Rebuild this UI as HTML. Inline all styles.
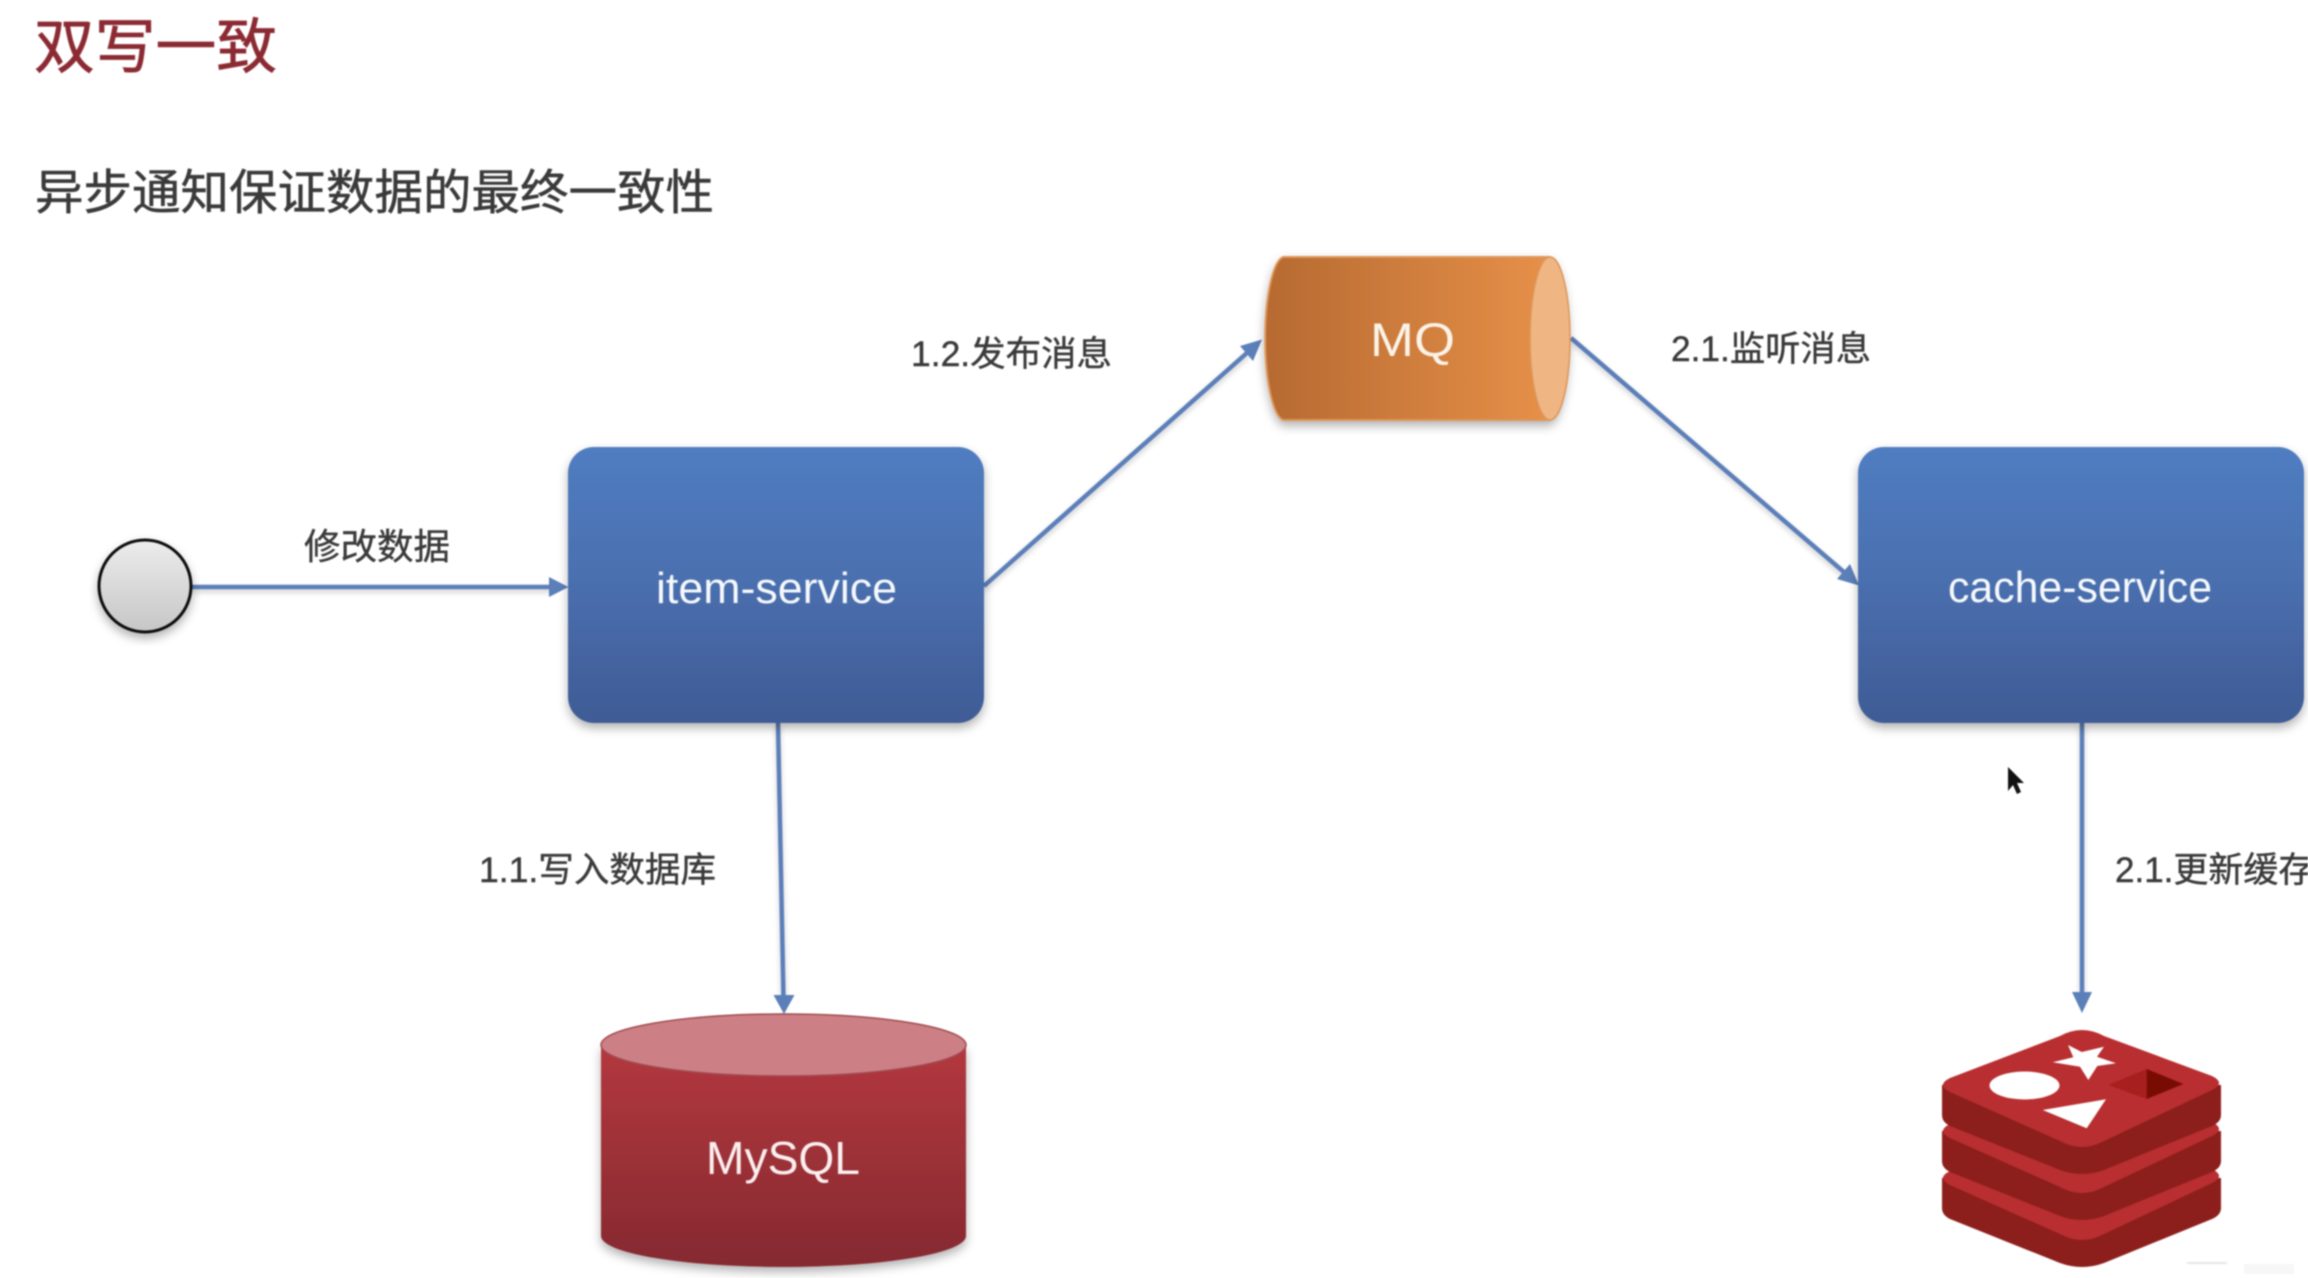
<!DOCTYPE html>
<html><head><meta charset="utf-8"><title>双写一致</title>
<style>
html,body{margin:0;padding:0;background:#fff;width:2308px;height:1278px;overflow:hidden}
svg{display:block;filter:blur(.7px)}
text{font-family:"Liberation Sans","Noto Sans CJK SC",sans-serif}
.lb{font-size:35px;fill:#3a3a3a;stroke:#3a3a3a;stroke-width:.4px}
.w{fill:#f6f9fc;font-size:44px}
</style></head><body>
<svg width="2308" height="1278" viewBox="0 0 2308 1278" xmlns="http://www.w3.org/2000/svg">
<defs>
<linearGradient id="blue" x1="0" y1="0" x2="0" y2="1"><stop offset="0" stop-color="#4f7dc1"/><stop offset=".45" stop-color="#4b70b0"/><stop offset="1" stop-color="#3f5b95"/></linearGradient>
<linearGradient id="org" x1="0" y1="0" x2="1" y2="0"><stop offset="0" stop-color="#b66a31"/><stop offset="1" stop-color="#e9924a"/></linearGradient>
<linearGradient id="red" x1="0" y1="0" x2="0" y2="1"><stop offset="0" stop-color="#b3383e"/><stop offset="1" stop-color="#852930"/></linearGradient>
<linearGradient id="gry" x1="0" y1="0" x2="0" y2="1"><stop offset="0" stop-color="#ececec"/><stop offset="1" stop-color="#c6c6c6"/></linearGradient>
<filter id="s" x="-10%" y="-10%" width="120%" height="125%"><feDropShadow dx="0" dy="5" stdDeviation="5" flood-color="#000" flood-opacity=".3"/></filter>
<filter id="ls" x="-5%" y="-5%" width="110%" height="110%"><feDropShadow dx="0" dy="3" stdDeviation="3" flood-color="#000" flood-opacity=".2"/></filter>
<path id="hull" d="M1942,1085 V1115 Q1942,1122 1950,1126 L2060,1170 Q2082,1178 2104,1170 L2212,1126 Q2221,1122 2221,1115 V1085 Z"/>
<path id="surf" d="M2060,1036 Q2082,1024 2104,1036 L2212,1076 Q2226,1083 2212,1090 L2104,1141 Q2082,1153 2060,1141 L1950,1092 Q1936,1085 1950,1078 Z"/>
</defs>
<rect width="2308" height="1278" fill="#fff"/>

<text x="34" y="68" font-size="60" fill="#8c2a33" stroke="#8c2a33" stroke-width=".7" textLength="243" lengthAdjust="spacingAndGlyphs">双写一致</text>
<text x="35" y="209" font-size="48" fill="#3a3a3a" stroke="#3a3a3a" stroke-width=".5" textLength="679" lengthAdjust="spacingAndGlyphs">异步通知保证数据的最终一致性</text>

<!-- connectors -->
<g filter="url(#ls)" stroke="#5b7fb9" stroke-width="4.500" fill="none">
<line x1="192" y1="587" x2="552" y2="587"/>
<line x1="984" y1="586" x2="1248" y2="352"/>
<line x1="1571" y1="338" x2="1845" y2="573"/>
<line x1="778" y1="723" x2="783.500" y2="998"/>
<line x1="2082" y1="723" x2="2082" y2="995"/>
</g>
<g fill="#5b7fb9">
<polygon points="568.500,587 549,577 549,597"/>
<polygon points="1262,339.500 1240,346 1253,361"/>
<polygon points="1859,585.500 1837,579 1850,564"/>
<polygon points="784,1014 773.500,995 794.500,995"/>
<polygon points="2082,1013 2072,992 2092,992"/>
</g>

<!-- start circle -->
<ellipse cx="145" cy="586" rx="46" ry="46" fill="url(#gry)" stroke="#0c0c0c" stroke-width="3" filter="url(#s)"/>

<!-- boxes -->
<rect x="568" y="447" width="416" height="276" rx="26" fill="url(#blue)" filter="url(#s)"/>
<rect x="1858" y="447" width="446" height="276" rx="26" fill="url(#blue)" filter="url(#s)"/>
<text x="656" y="603" class="w" textLength="241" lengthAdjust="spacingAndGlyphs">item-service</text>
<text x="1948" y="602" class="w" textLength="264" lengthAdjust="spacingAndGlyphs">cache-service</text>

<!-- MQ -->
<path d="M1283,257 H1550 A20,82 0 0 1 1550,420 H1283 A20,82 0 0 1 1283,257 Z" fill="url(#org)" stroke="#de9658" stroke-width="2" filter="url(#s)"/>
<ellipse cx="1550" cy="338.500" rx="20" ry="81.500" fill="#efb583" stroke="#de9658" stroke-width="1.500"/>
<text x="1370" y="356" font-size="47" fill="#fbf3e8" textLength="85" lengthAdjust="spacingAndGlyphs">MQ</text>

<!-- MySQL -->
<path d="M601,1045 V1236 A182.500,31 0 0 0 966,1236 V1045 Z" fill="url(#red)" filter="url(#s)"/>
<ellipse cx="783.500" cy="1045" rx="182.500" ry="31" fill="#cc8085" stroke="#a04a50" stroke-width="1.500"/>
<text x="706" y="1174" font-size="46" fill="#fbeff0" textLength="154" lengthAdjust="spacingAndGlyphs">MySQL</text>

<!-- labels -->
<text x="304" y="559" font-size="36" fill="#3a3a3a" stroke="#3a3a3a" stroke-width=".4" textLength="146" lengthAdjust="spacingAndGlyphs">修改数据</text>
<text x="911" y="366" class="lb" textLength="201" lengthAdjust="spacingAndGlyphs">1.2.发布消息</text>
<text x="1671" y="361" class="lb" textLength="200" lengthAdjust="spacingAndGlyphs">2.1.监听消息</text>
<text x="479" y="882" class="lb" textLength="237" lengthAdjust="spacingAndGlyphs">1.1.写入数据库</text>
<text x="2115" y="882" class="lb">2.1.更新缓存</text>

<!-- cursor -->
<polygon points="2008,767 2008,791 2013,785 2017,794 2021,792 2017,783 2024,783" fill="#111"/>

<!-- redis -->
<g>
<use href="#hull" transform="translate(0,93)" fill="#8c1f1b"/>
<use href="#surf" transform="translate(0,93)" fill="#b92e30"/>
<use href="#hull" transform="translate(0,46)" fill="#8c1f1b"/>
<use href="#surf" transform="translate(0,46)" fill="#b92e30"/>
<use href="#hull" fill="#8c1f1b"/>
<use href="#surf" fill="#b92e30"/>
<ellipse cx="2024.500" cy="1085.500" rx="35" ry="14" fill="#fff"/>
<polygon points="2068,1045 2081.700,1052 2104,1046.700 2097,1056.700 2116,1063.300 2097.300,1066 2088.300,1080 2080,1066.700 2052.700,1062.300 2073.300,1057.300" fill="#fff"/>
<polygon points="2042.700,1110 2106,1099.300 2086.700,1128.300" fill="#fff"/>
<polygon points="2108.300,1085 2146.700,1069 2146.700,1099" fill="#a81f1f"/>
<polygon points="2146.700,1069 2183.300,1084 2146.700,1099" fill="#780c02"/>
</g>

<!-- watermark -->
<rect x="2187" y="1262" width="40" height="2" fill="#e6e6e6"/>
<rect x="2244" y="1264" width="50" height="10" fill="#f7f7f7"/>
</svg>
</body></html>
